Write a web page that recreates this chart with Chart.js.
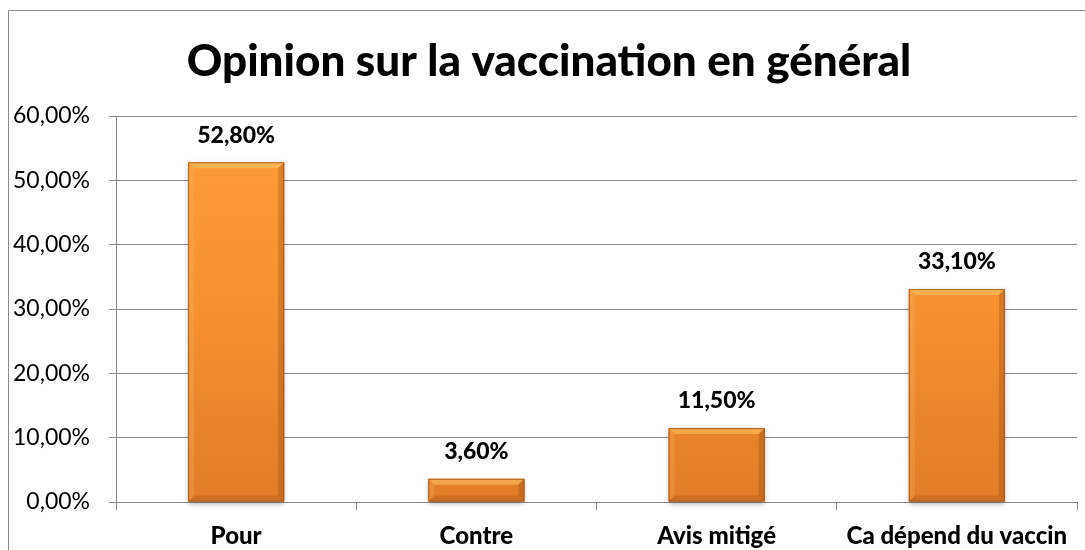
<!doctype html>
<html lang="fr">
<head>
<meta charset="utf-8">
<title>Opinion sur la vaccination en général</title>
<style>
  * { margin: 0; padding: 0; }
  body { background: #fff; }
  .chartBox { width: 1085px; height: 550px; }
</style>
</head>
<body>
<div class="chartBox"><canvas id="myChart"></canvas></div>
<script src="https://cdn.jsdelivr.net/npm/chart.js"></script>
<script>
const categories = ['Pour', 'Contre', 'Avis mitigé', 'Ca dépend du vaccin'];
const values = [52.8, 3.6, 11.5, 33.1];
const titleText = 'Opinion sur la vaccination en général';

const FONT = 'Lato, "Open Sans", sans-serif';
const fmt = v => v.toFixed(2).replace('.', ',') + '%';

// outer frame + title
const frame = {
  id: 'frame',
  beforeDraw(chart) {
    const { ctx } = chart;
    ctx.save();
    ctx.strokeStyle = '#8a8a8a';
    ctx.lineWidth = 1;
    ctx.strokeRect(8.5, 10.5, 1200, 600);
    ctx.fillStyle = '#000';
    ctx.font = '900 44px ' + FONT;
    ctx.textAlign = 'center';
    ctx.textBaseline = 'alphabetic';
    ctx.fillText(titleText, 549, 76);
    ctx.restore();
  }
};

// shadow + bevel on the bars, then value labels
const bevel = {
  id: 'bevel',
  beforeDatasetsDraw(chart) {
    const { ctx } = chart;
    const meta = chart.getDatasetMeta(0);
    ctx.save();
    meta.data.forEach(bar => {
      const w = bar.width, l = bar.x - w / 2;
      ctx.shadowColor = 'rgba(0,0,0,0.3)';
      ctx.shadowBlur = 5;
      ctx.shadowOffsetY = 2;
      ctx.fillStyle = '#e07a25';
      ctx.fillRect(l, bar.y, w, bar.base - bar.y);
    });
    ctx.restore();
  },
  afterDatasetsDraw(chart) {
    const { ctx } = chart;
    const meta = chart.getDatasetMeta(0);
    ctx.save();
    meta.data.forEach((bar, i) => {
      const w = bar.width, l = bar.x - w / 2, r = l + w, t = bar.y, b = bar.base;
      const d = Math.min(6, (b - t) / 2);
      // top highlight
      ctx.fillStyle = 'rgba(255,205,110,0.5)';
      ctx.beginPath();
      ctx.moveTo(l, t); ctx.lineTo(r, t); ctx.lineTo(r - d, t + d); ctx.lineTo(l + d, t + d);
      ctx.closePath(); ctx.fill();
      // left edge
      ctx.fillStyle = 'rgba(255,200,120,0.2)';
      ctx.beginPath();
      ctx.moveTo(l, t); ctx.lineTo(l + d, t + d); ctx.lineTo(l + d, b - d); ctx.lineTo(l, b);
      ctx.closePath(); ctx.fill();
      // right edge
      ctx.fillStyle = 'rgba(120,50,0,0.25)';
      ctx.beginPath();
      ctx.moveTo(r, t); ctx.lineTo(r - d, t + d); ctx.lineTo(r - d, b - d); ctx.lineTo(r, b);
      ctx.closePath(); ctx.fill();
      // bottom edge
      ctx.fillStyle = 'rgba(120,50,0,0.18)';
      ctx.beginPath();
      ctx.moveTo(l, b); ctx.lineTo(l + d, b - d); ctx.lineTo(r - d, b - d); ctx.lineTo(r, b);
      ctx.closePath(); ctx.fill();
      // outline
      ctx.strokeStyle = 'rgba(150,75,15,0.7)';
      ctx.lineWidth = 1;
      ctx.strokeRect(l + 0.5, t + 0.5, w - 1, b - t - 1);

      ctx.fillStyle = '#000';
      ctx.font = '900 23px ' + FONT;
      ctx.textAlign = 'center';
      ctx.textBaseline = 'middle';
      ctx.fillText(fmt(values[i]), bar.x, t - 27);
    });
    ctx.restore();
  }
};

const data = {
  labels: categories,
  datasets: [{
    data: values,
    backgroundColor: (c) => {
      const area = c.chart.chartArea;
      if (!area) return '#f7962f';
      const bar = c.element;
      const top = bar && bar.y !== undefined ? bar.y : area.top;
      const bottom = bar && bar.base !== undefined ? bar.base : area.bottom;
      const g = c.chart.ctx.createLinearGradient(0, top, 0, bottom);
      g.addColorStop(0, '#ff9d38');
      g.addColorStop(0.5, '#f69030');
      g.addColorStop(1, '#e27c28');
      return g;
    },
    borderWidth: 0,
    barPercentage: 0.4,
    categoryPercentage: 1
  }]
};

const config = {
  type: 'bar',
  data,
  options: {
    responsive: false,
    animation: false,
    layout: { padding: { top: 116, right: 8, left: 0, bottom: 0 } },
    plugins: {
      legend: { display: false },
      tooltip: { enabled: false }
    },
    scales: {
      x: {
        afterFit: s => { s.height = 48; },
        grid: { offset: true, drawOnChartArea: false, tickLength: 8, color: '#888' },
        border: { color: '#888' },
        ticks: { color: '#000', font: { family: FONT, size: 24, weight: '900' }, padding: 12, maxRotation: 0 }
      },
      y: {
        min: 0, max: 60,
        afterFit: s => { s.width = 116; },
        grid: { color: '#888', tickLength: 7 },
        border: { color: '#888' },
        ticks: { stepSize: 10, color: '#000', font: { family: FONT, size: 23 }, padding: 19, callback: v => fmt(v) }
      }
    }
  },
  plugins: [frame, bevel]
};

const canvas = document.getElementById('myChart');
canvas.width = 1085;
canvas.height = 550;
const myChart = new Chart(canvas, config);
</script>
</body>
</html>
